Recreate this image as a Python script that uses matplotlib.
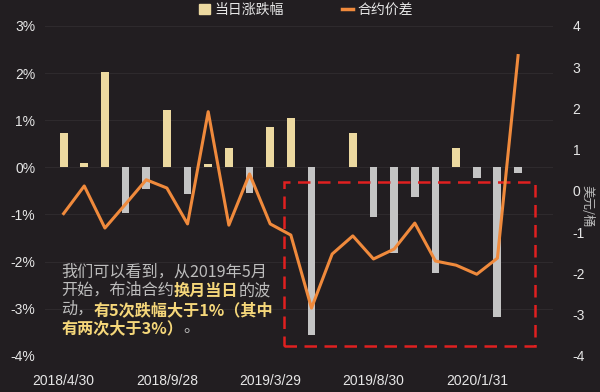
import matplotlib
matplotlib.use("Agg")
import matplotlib.pyplot as plt
from matplotlib.patches import Rectangle
from matplotlib.lines import Line2D
import numpy as np

plt.rcParams['font.family'] = ['Noto Sans CJK SC', 'DejaVu Sans']

# data
tick_labels = ['2018/4/30', '2018/9/28', '2019/3/29', '2019/8/30', '2020/1/31']
# daily change on roll day (%)
change = [0.72, 0.10, 2.03, -0.97, -0.45, 1.22, -0.57, 0.08, 0.40, -0.55,
          0.85, 1.05, -3.55, 0.0, 0.72, -1.06, -1.82, -0.62, -2.25, 0.40,
          -0.22, -3.18, -0.12]
# contract spread (USD/bbl)
spread = [-0.55, 0.12, -0.90, -0.32, 0.27, 0.07, -0.80, 1.92, -0.83, 0.41,
          -0.80, -1.07, -2.84, -1.53, -1.09, -1.65, -1.41, -0.78, -1.70, -1.80,
          -2.02, -1.63, 3.28]

bg = '#221e21'
yellow = '#ecd9a0'
grey = '#c4c4c4'
orange = '#f08a3c'
txt = '#e6e6e6'

x = np.arange(len(change))

fig = plt.figure(figsize=(6, 3.92), dpi=100, facecolor=bg)
ax = fig.add_axes([0.075, 0.092, 0.847, 0.842], facecolor=bg)
ax2 = ax.twinx()

cols = [yellow if v >= 0 else grey for v in change]
ax.bar(x, change, width=0.38, color=cols, zorder=2)

ax.set_ylim(-4, 3)
ax.set_yticks([3, 2, 1, 0, -1, -2, -3, -4])
ax.set_yticklabels(['3%', '2%', '1%', '0%', '-1%', '-2%', '-3%', '-4%'])
ax.set_xlim(-0.9, 23.7)
ax.set_xticks(x[::5])
ax.set_xticklabels(tick_labels)
ax.grid(axis='y', color='#2e2a2d', lw=0.8, zorder=0)
ax.set_axisbelow(True)

ax2.plot(x, spread, color=orange, lw=2.2, zorder=3)
ax2.set_ylim(-4, 4)
ax2.set_yticks(range(-4, 5))
ax2.set_yticklabels([str(v) for v in range(-4, 5)])

for a in (ax, ax2):
    for s in a.spines.values():
        s.set_visible(False)
    a.tick_params(length=0, colors=txt, labelsize=10)
    for lab in a.get_xticklabels() + a.get_yticklabels():
        lab.set_family(['Liberation Sans', 'DejaVu Sans'])
ax.tick_params(axis='y', pad=7)
ax.tick_params(axis='x', pad=13)
ax2.tick_params(axis='y', pad=14)

fig.text(0.978, 0.475, '美元/桶', rotation=270, color='#bdbdbd', fontsize=9,
         ha='center', va='center')

# red dashed box on the 2019/5 onward period
ax.add_patch(Rectangle((10.68, -3.79), 12.12, 3.47, fill=False, ec='#e02020',
                       lw=1.8, ls=(0, (5, 3)), zorder=4))

# legend
handles = [Rectangle((0, 0), 1, 1, color=yellow),
           Line2D([0], [0], color=orange, lw=2.5)]
fig.legend(handles, ['当日涨跌幅', '合约价差'], loc='center', bbox_to_anchor=(0.51, 0.975),
           ncol=2, frameon=False, fontsize=10, labelcolor=txt, handlelength=0.8,
           handleheight=0.8, handletextpad=0.3, columnspacing=4.2)

# annotation with mixed styles
lines = [
    [('我们可以看到，从2019年5月', False)],
    [('开始，布油合约', False), ('换月当日', True), ('的波', False)],
    [('动，', False), ('有5次跌幅大于1%（其中', True)],
    [('有两次大于3%）', True), ('。', False)],
]
ys = [0.284, 0.237, 0.189, 0.142]
for parts, yy in zip(lines, ys):
    prev = None
    for s, b in parts:
        kw = dict(fontsize=11.6, color='#f5d77a' if b else '#bdbdbd',
                  fontweight='bold' if b else 'normal', va='bottom', ha='left')
        if prev is None:
            prev = fig.text(0.102, yy, s, **kw)
        else:
            prev = ax.annotate(s, xy=(1, 0), xycoords=prev, **kw)

fig.savefig('out.png', dpi=100, facecolor=bg)
